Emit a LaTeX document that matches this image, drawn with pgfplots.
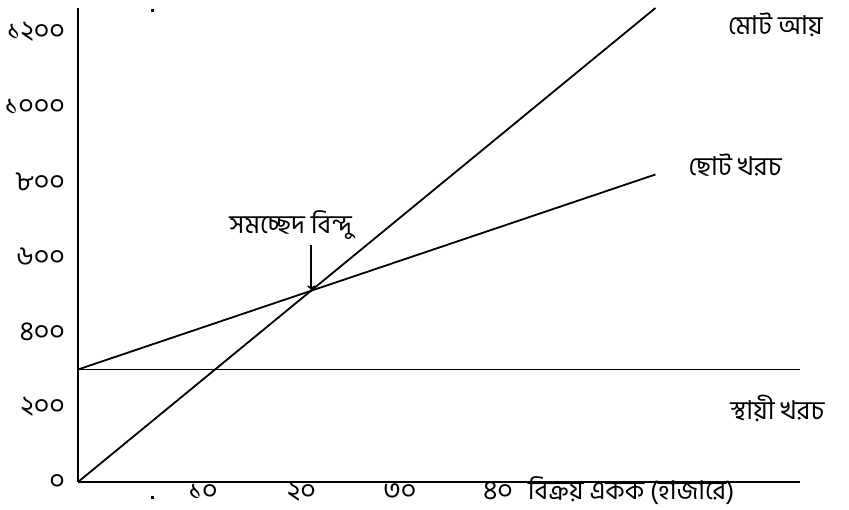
\documentclass[border=0pt]{standalone}
\usepackage{pgfplots}
\pgfplotsset{compat=1.18}
\usepackage{fontspec}
\setmainfont[Script=Bengali]{Hind Siliguri}
\begin{document}
\begin{tikzpicture}
\begin{axis}[
  scale only axis, width=722pt, height=474pt,
  xmin=-2.72, xmax=70.7, ymin=0, ymax=1264,
  axis lines=left, axis line style={-, line width=1.8pt},
  xtick={10,20,30,40}, xticklabels={১০,২০,৩০,৪০},
  ytick={0,200,400,600,800,1000,1200},
  yticklabels={০,২০০,৪০০,৬০০,৮০০,১০০০,১২০০},
  major tick length=0pt,
  tick label style={font=\fontsize{27}{30}\selectfont, inner sep=0pt},
  xticklabel style={anchor=base, yshift=-18pt},
  yticklabel style={anchor=east, xshift=-13pt},
  clip=false,
]
\addplot[black, line width=1.8pt] coordinates {(-2.72,300) (70.7,300)};
\addplot[black, line width=1.8pt] coordinates {(-2.72,300) (56,820)};
\addplot[black, line width=1.8pt] coordinates {(-2.72,0) (56,1264)};
\addplot[black, line width=1.8pt, ->] coordinates {(21.0,632) (21.0,512)};
\addplot[black, only marks, mark=square*, mark size=0.9pt] coordinates {(4.8,1259) (4.8,-40)};
\node[font=\fontsize{26}{28}\selectfont] at (axis cs:68.2,1219) {মোট আয়};
\node[font=\fontsize{26}{28}\selectfont] at (axis cs:64.1,845) {ছোট খরচ};
\node[font=\fontsize{26}{28}\selectfont] at (axis cs:68.4,197) {স্থায়ী খরচ};
\node[font=\fontsize{26}{28}\selectfont] at (axis cs:18.9,685) {সমচ্ছেদ বিন্দু};
\node[font=\fontsize{26}{28}\selectfont, inner sep=0pt, anchor=base west, yshift=-18pt] at (axis cs:43.0,0) {বিক্রয় একক (হাজারে)};
\end{axis}
\pgfresetboundingbox
\path[use as bounding box] (-78pt,-28pt) rectangle (771pt,482pt);
\end{tikzpicture}
\end{document}
